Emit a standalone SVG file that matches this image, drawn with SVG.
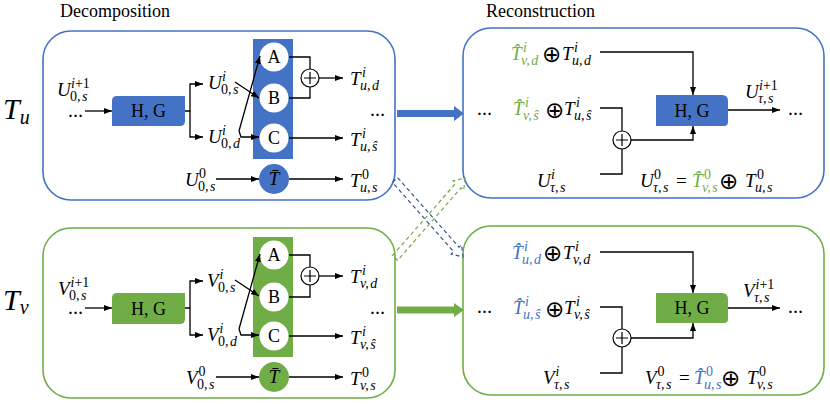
<svg xmlns="http://www.w3.org/2000/svg" width="830" height="404" viewBox="0 0 830 404">
<style>
.t{font-family:"Liberation Serif","Times New Roman","DejaVu Serif",serif;font-size:18px;fill:#000}
.m{font-family:"Liberation Serif","Times New Roman","DejaVu Serif",serif;font-style:italic;font-size:19px;fill:#000}
.s{font-size:14px}
.r{font-style:normal}
.op{font-family:"DejaVu Sans",sans-serif;font-style:normal;font-size:23px}
.big{font-family:"Liberation Serif","Times New Roman","DejaVu Serif",serif;font-style:italic;font-size:30px}
.dots{font-family:"Liberation Serif","Times New Roman","DejaVu Serif",serif;font-size:15px;font-weight:bold}
.g{fill:#70AD47}
.b{fill:#4472C4}
.ln{fill:none;stroke:#000;stroke-width:1.3}
.arr{marker-end:url(#ah)}
.pb{fill:#fff;stroke:#4472C4;stroke-width:1.6}
.pg{fill:#fff;stroke:#70AD47;stroke-width:1.6}
.wc{fill:#fff}
.pc{fill:#fff;stroke:#000;stroke-width:1.2}
.ctr{text-anchor:middle}
</style>
<defs>
<marker id="ah" markerUnits="userSpaceOnUse" markerWidth="8" markerHeight="6" refX="8" refY="3" orient="auto">
<path d="M0,0 L8,3 L0,6 z" fill="#000"/>
</marker>
<g id="plus"><circle r="9" class="pc"/><path d="M-6,0 H6 M0,-6 V6" stroke="#000" stroke-width="1.2"/></g>
</defs>

<text class="t" x="60" y="17">Decomposition</text>
<text class="t" x="486" y="17">Reconstruction</text>
<text class="big" x="3" y="119">T<tspan font-size="20" y="124">u</tspan></text>
<text class="big" x="3" y="310">T<tspan font-size="20" y="314">v</tspan></text>

<!-- panels -->
<g id="panel-decomp-u"><rect x="43" y="31" width="352" height="169" rx="28" class="pb"/></g>
<g id="panel-decomp-v"><rect x="43" y="228" width="352" height="170" rx="28" class="pg"/></g>
<g id="panel-recon-u"><rect x="463" y="28" width="361" height="170" rx="28" class="pb"/></g>
<g id="panel-recon-v"><rect x="463" y="226" width="361" height="169" rx="28" class="pg"/></g>

<!-- top-left nodes -->
<g id="hg-du"><path d="M117,96 H185 V121 Q185,126 180,126 H112 V101 Q112,96 117,96 Z" fill="#4472C4"/><text class="t ctr" x="148.5" y="117" font-size="19">H, G</text></g>
<g id="abc-u"><rect x="253" y="39" width="40" height="120" fill="#4472C4"/>
<circle cx="274" cy="57" r="14.5" class="wc"/><text class="t ctr" x="274" y="63" font-size="19">A</text>
<circle cx="274" cy="98" r="14.5" class="wc"/><text class="t ctr" x="274" y="104" font-size="19">B</text>
<circle cx="274" cy="138" r="14.5" class="wc"/><text class="t ctr" x="274" y="144" font-size="19">C</text></g>
<g id="plus-du"><use href="#plus" x="310" y="78"/></g>
<g id="tbar-u"><circle cx="274" cy="179" r="15" fill="#4472C4"/><text class="m ctr" x="274" y="185" font-size="17">T̄</text></g>

<!-- bottom-left nodes -->
<g id="hg-dv"><path d="M117,293 H185 V319 Q185,324 180,324 H112 V298 Q112,293 117,293 Z" fill="#70AD47"/><text class="t ctr" x="148.5" y="315" font-size="19">H, G</text></g>
<g id="abc-v"><rect x="253" y="237" width="40" height="120" fill="#70AD47"/>
<circle cx="274" cy="255" r="14.5" class="wc"/><text class="t ctr" x="274" y="261" font-size="19">A</text>
<circle cx="274" cy="297" r="14.5" class="wc"/><text class="t ctr" x="274" y="303" font-size="19">B</text>
<circle cx="274" cy="336" r="14.5" class="wc"/><text class="t ctr" x="274" y="342" font-size="19">C</text></g>
<g id="plus-dv"><use href="#plus" x="310" y="276"/></g>
<g id="tbar-v"><circle cx="274" cy="377" r="15" fill="#70AD47"/><text class="m ctr" x="274" y="383" font-size="17">T̄</text></g>

<!-- right nodes -->
<g id="hg-ru"><path d="M656,95 H722 Q728,95 728,101 V122 Q728,126 724,126 H656 Z" fill="#4472C4"/><text class="t ctr" x="692" y="117" font-size="19">H, G</text></g>
<g id="plus-ru"><use href="#plus" x="622" y="140"/></g>
<g id="hg-rv"><path d="M656,293 H722 Q728,293 728,299 V319 Q728,323 724,323 H656 Z" fill="#70AD47"/><text class="t ctr" x="692" y="314" font-size="19">H, G</text></g>
<g id="plus-rv"><use href="#plus" x="622" y="338"/></g>

<!-- labels top-left -->
<g id="labels-du">
<text class="dots" x="68" y="117">…</text>
<text class="m" x="57" y="96">U<tspan class="s" x="71" y="88">i<tspan class="r">+1</tspan></tspan><tspan class="s" x="70" y="101"><tspan class="r">0</tspan>,<tspan dx="1.5">s</tspan></tspan></text>
<text class="m" x="208" y="89">U<tspan class="s" x="222" y="81">i</tspan><tspan class="s" x="221" y="94"><tspan class="r">0</tspan>,<tspan dx="1.5">s</tspan></tspan></text>
<text class="m" x="208" y="143">U<tspan class="s" x="222" y="135">i</tspan><tspan class="s" x="221" y="148"><tspan class="r">0</tspan>,<tspan dx="1.5">d</tspan></tspan></text>
<text class="m" x="350" y="85">T<tspan class="s" x="362" y="77">i</tspan><tspan class="s" x="360" y="90">u,<tspan dx="1.5">d</tspan></tspan></text>
<text class="dots" x="370" y="116">…</text>
<text class="m" x="350" y="146">T<tspan class="s" x="362" y="138">i</tspan><tspan class="s" x="360" y="151">u,<tspan dx="1.5">ŝ</tspan></tspan></text>
<text class="m" x="350" y="187">T<tspan class="s r" x="362" y="179">0</tspan><tspan class="s" x="360" y="192">u,<tspan dx="1.5">s</tspan></tspan></text>
<text class="m" x="185" y="186">U<tspan class="s r" x="199" y="178">0</tspan><tspan class="s" x="198" y="191"><tspan class="r">0</tspan>,<tspan dx="1.5">s</tspan></tspan></text>
</g>

<!-- labels bottom-left -->
<g id="labels-dv">
<text class="dots" x="68" y="314">…</text>
<text class="m" x="58" y="295">V<tspan class="s" x="70.5" y="287">i<tspan class="r">+1</tspan></tspan><tspan class="s" x="69" y="300"><tspan class="r">0</tspan>,<tspan dx="1.5">s</tspan></tspan></text>
<text class="m" x="207" y="287">V<tspan class="s" x="219.5" y="279">i</tspan><tspan class="s" x="218" y="292"><tspan class="r">0</tspan>,<tspan dx="1.5">s</tspan></tspan></text>
<text class="m" x="207" y="341">V<tspan class="s" x="219.5" y="333">i</tspan><tspan class="s" x="218" y="346"><tspan class="r">0</tspan>,<tspan dx="1.5">d</tspan></tspan></text>
<text class="m" x="350" y="283">T<tspan class="s" x="362" y="275">i</tspan><tspan class="s" x="360" y="288">v,<tspan dx="1.5">d</tspan></tspan></text>
<text class="dots" x="370" y="314">…</text>
<text class="m" x="350" y="344">T<tspan class="s" x="362" y="336">i</tspan><tspan class="s" x="360" y="349">v,<tspan dx="1.5">ŝ</tspan></tspan></text>
<text class="m" x="350" y="385">T<tspan class="s r" x="362" y="377">0</tspan><tspan class="s" x="360" y="390">v,<tspan dx="1.5">s</tspan></tspan></text>
<text class="m" x="186" y="384">V<tspan class="s r" x="198.5" y="376">0</tspan><tspan class="s" x="197" y="389"><tspan class="r">0</tspan>,<tspan dx="1.5">s</tspan></tspan></text>
</g>

<!-- labels top-right -->
<g id="labels-ru">
<text class="m g" x="511" y="60">T̂<tspan class="s" x="523" y="52">i</tspan><tspan class="s" x="521" y="65">v,<tspan dx="1.5">d</tspan></tspan></text>
<text class="op" x="542" y="61.5">⊕</text>
<text class="m" x="562" y="60">T<tspan class="s" x="574" y="52">i</tspan><tspan class="s" x="572" y="65">u,<tspan dx="1.5">d</tspan></tspan></text>
<text class="dots" x="477" y="115">…</text>
<text class="m g" x="513" y="115">T̂<tspan class="s" x="525" y="107">i</tspan><tspan class="s" x="523" y="120">v,<tspan dx="1.5">ŝ</tspan></tspan></text>
<text class="op" x="545" y="118">⊕</text>
<text class="m" x="564" y="115">T<tspan class="s" x="576" y="107">i</tspan><tspan class="s" x="574" y="120">u,<tspan dx="1.5">ŝ</tspan></tspan></text>
<text class="m" x="537" y="187">U<tspan class="s" x="551" y="179">i</tspan><tspan class="s" x="550" y="192">τ,<tspan dx="1.5">s</tspan></tspan></text>
<text class="m" x="745" y="98">U<tspan class="s" x="759" y="90">i<tspan class="r">+1</tspan></tspan><tspan class="s" x="758" y="103">τ,<tspan dx="1.5">s</tspan></tspan></text>
<text class="dots" x="788" y="115">…</text>
<text class="m" x="640" y="187">U<tspan class="s r" x="654" y="179">0</tspan><tspan class="s" x="653" y="192">τ,<tspan dx="1.5">s</tspan></tspan><tspan class="r" x="676" y="187">=</tspan></text>
<text class="m g" x="692" y="187">T̂<tspan class="s r" x="704" y="179">0</tspan><tspan class="s" x="702" y="192">v,<tspan dx="1.5">s</tspan></tspan></text>
<text class="op" x="719" y="188.5">⊕</text>
<text class="m" x="745" y="187">T<tspan class="s r" x="757" y="179">0</tspan><tspan class="s" x="755" y="192">u,<tspan dx="1.5">s</tspan></tspan></text>
</g>

<!-- labels bottom-right -->
<g id="labels-rv">
<text class="m b" x="512" y="259">T̂<tspan class="s" x="524" y="251">i</tspan><tspan class="s" x="522" y="264">u,<tspan dx="1.5">d</tspan></tspan></text>
<text class="op" x="543" y="260.5">⊕</text>
<text class="m" x="563" y="259">T<tspan class="s" x="575" y="251">i</tspan><tspan class="s" x="573" y="264">v,<tspan dx="1.5">d</tspan></tspan></text>
<text class="dots" x="477" y="313">…</text>
<text class="m b" x="513" y="314">T̂<tspan class="s" x="525" y="306">i</tspan><tspan class="s" x="523" y="319">u,<tspan dx="1.5">ŝ</tspan></tspan></text>
<text class="op" x="545" y="317">⊕</text>
<text class="m" x="564" y="314">T<tspan class="s" x="576" y="306">i</tspan><tspan class="s" x="574" y="319">v,<tspan dx="1.5">ŝ</tspan></tspan></text>
<text class="m" x="543" y="384">V<tspan class="s" x="555.5" y="376">i</tspan><tspan class="s" x="554" y="389">τ,<tspan dx="1.5">s</tspan></tspan></text>
<text class="m" x="743" y="297">V<tspan class="s" x="755.5" y="289">i<tspan class="r">+1</tspan></tspan><tspan class="s" x="754" y="302">τ,<tspan dx="1.5">s</tspan></tspan></text>
<text class="dots" x="788" y="313">…</text>
<text class="m" x="645" y="384">V<tspan class="s r" x="657.5" y="376">0</tspan><tspan class="s" x="656" y="389">τ,<tspan dx="1.5">s</tspan></tspan><tspan class="r" x="679" y="384">=</tspan></text>
<text class="m b" x="694" y="384">T̂<tspan class="s r" x="706" y="376">0</tspan><tspan class="s" x="704" y="389">u,<tspan dx="1.5">s</tspan></tspan></text>
<text class="op" x="721" y="385.5">⊕</text>
<text class="m" x="747" y="384">T<tspan class="s r" x="759" y="376">0</tspan><tspan class="s" x="757" y="389">v,<tspan dx="1.5">s</tspan></tspan></text>
</g>

<!-- connectors -->
<g id="connectors">
<path class="ln arr" d="M85,111 H112"/>
<path class="ln arr" d="M185,111 H190 V84 H203"/>
<path class="ln arr" d="M190,111 V137 H203"/>
<path class="ln arr" d="M235,82 L259,98"/>
<path class="ln arr" d="M239,131 L260,56"/>
<path class="ln arr" d="M239,131 L241,137 H259"/>
<path class="ln" d="M289,57 H310 V69"/>
<path class="ln" d="M289,98 H310 V87"/>
<path class="ln arr" d="M319,78 H343"/>
<path class="ln arr" d="M289,138 H343"/>
<path class="ln arr" d="M216,179 H259"/>
<path class="ln arr" d="M289,179 H343"/>

<path class="ln arr" d="M85,308 H112"/>
<path class="ln arr" d="M185,308 H190 V281 H203"/>
<path class="ln arr" d="M190,308 V335 H203"/>
<path class="ln arr" d="M235,280 L259,296"/>
<path class="ln arr" d="M239,329 L260,254"/>
<path class="ln arr" d="M239,329 L241,335 H259"/>
<path class="ln" d="M289,255 H310 V267"/>
<path class="ln" d="M289,297 H310 V285"/>
<path class="ln arr" d="M319,276 H343"/>
<path class="ln arr" d="M289,336 H343"/>
<path class="ln arr" d="M216,377 H259"/>
<path class="ln arr" d="M289,377 H343"/>

<path class="ln arr" d="M600,52 H693 V95"/>
<path class="ln" d="M600,108 H622 V131"/>
<path class="ln" d="M600,174 H622 V149"/>
<path class="ln arr" d="M631,140 H693 V126"/>
<path class="ln arr" d="M728,110 H780"/>

<path class="ln arr" d="M600,252 H693 V293"/>
<path class="ln" d="M600,307 H622 V329"/>
<path class="ln" d="M600,373 H622 V347"/>
<path class="ln arr" d="M631,338 H693 V323"/>
<path class="ln arr" d="M728,308 H780"/>

<polygon points="397,110 454,110 454,106 464,113.5 454,121 454,117 397,117" fill="#4472C4"/>
<polygon points="397,306.5 454,306.5 454,303 464,310 454,317 454,313.5 397,313.5" fill="#70AD47"/>
<polygon transform="translate(395,180) rotate(48.55)" points="0,-3.5 92.7,-3.5 92.7,-7 102.7,0 92.7,7 92.7,3.5 0,3.5" fill="none" stroke="#2F5597" stroke-width="1.2" stroke-dasharray="4,3"/>
<polygon transform="translate(395,258) rotate(-48.8)" points="0,-3.5 96.3,-3.5 96.3,-7 106.3,0 96.3,7 96.3,3.5 0,3.5" fill="none" stroke="#70AD47" stroke-width="1.2" stroke-dasharray="4,3"/>
</g>
</svg>
